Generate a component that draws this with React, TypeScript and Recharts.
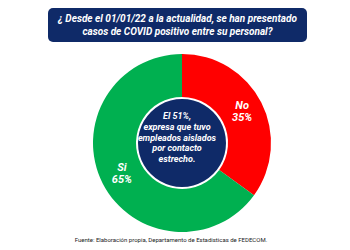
import React from 'react';
import { PieChart, Pie, Cell } from 'recharts';

const categories = ['No', 'Si'];
const shares = [35, 65];
const sliceColors = ['#ff0000', '#00b050'];
const titleLines = ['¿ Desde el 01/01/22 a la actualidad, se han presentado', 'casos de COVID positivo entre su personal?'];
const centerLines = ['El 51%,', 'expresa que tuvo', 'empleados aislados', 'por contacto', 'estrecho.'];
const sourceNote = 'Fuente: Elaboración propia, Departamento de Estadisticas de FEDECOM.';

const NAVY = '#0f2a68';
const FONT = '"Roboto", "Noto Sans", sans-serif';

const data = categories.map((name, i) => ({ name, value: shares[i] }));
const hub = [{ name: 'hub', value: 1 }];

const RAD = Math.PI / 180;

const renderLabel = (props: any) => {
  const { cx, cy, midAngle, innerRadius, outerRadius, name, value } = props;
  const r = (innerRadius + outerRadius) / 2;
  const x = cx + r * Math.cos(-midAngle * RAD);
  const y = cy + r * Math.sin(-midAngle * RAD);
  return (
    <text x={x} y={y} textAnchor="middle" fill="#fff" fontFamily={FONT} fontSize={11} fontWeight="bold" fontStyle="italic">
      <tspan x={x} dy={-3}>{name}</tspan>
      <tspan x={x} dy={12}>{`${value}%`}</tspan>
    </text>
  );
};

const App: React.FC = () => {
  return (
    <div style={{ position: 'absolute', left: 0, top: 0, width: 350, height: 250, background: '#fff', overflow: 'hidden' }}>
      <div
        style={{
          position: 'absolute', left: 48, top: 8, width: 259, height: 34, borderRadius: 5,
          background: NAVY, color: '#fff', fontFamily: FONT, fontWeight: 'bold', fontStyle: 'italic',
          fontSize: 10, lineHeight: '13px', textAlign: 'center', display: 'flex', flexDirection: 'column',
          justifyContent: 'center', whiteSpace: 'nowrap',
        }}
      >
        {titleLines.map((t) => <div key={t}>{t}</div>)}
      </div>
      <PieChart width={350} height={250} style={{ position: 'absolute', left: 0, top: 0 }}>
        <Pie
          data={data}
          dataKey="value"
          nameKey="name"
          cx={177}
          cy={138}
          innerRadius={46}
          outerRadius={89}
          startAngle={90}
          endAngle={-270}
          stroke="none"
          label={renderLabel}
          labelLine={false}
          isAnimationActive={false}
        >
          {data.map((d, i) => <Cell key={d.name} fill={sliceColors[i]} />)}
        </Pie>
        <Pie data={hub} dataKey="value" cx={177} cy={138} outerRadius={44} fill={NAVY} stroke="none" isAnimationActive={false} />
      </PieChart>
      <div
        style={{
          position: 'absolute', left: 127, top: 111, width: 100, color: '#fff', fontFamily: FONT,
          fontWeight: 'bold', fontStyle: 'italic', fontSize: 9, lineHeight: '10.8px', textAlign: 'center',
        }}
      >
        {centerLines.map((t) => <div key={t}>{t}</div>)}
      </div>
      <div
        style={{
          position: 'absolute', left: 0, top: 236, width: 342, textAlign: 'center', fontFamily: FONT,
          fontSize: 6, color: '#222', whiteSpace: 'nowrap',
        }}
      >
        {sourceNote}
      </div>
    </div>
  );
};

export default App;
